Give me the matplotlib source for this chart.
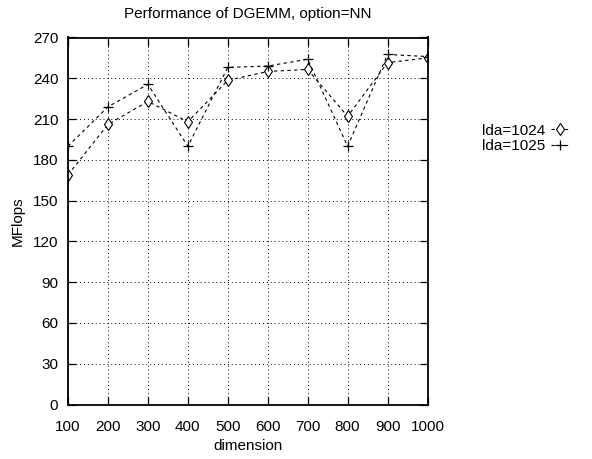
import matplotlib
matplotlib.use("Agg")
import matplotlib.pyplot as plt
from matplotlib import font_manager

# ── Dados ─────────────────────────────────────────────────────────────
dimension = [100, 200, 300, 400, 500, 600, 700, 800, 900, 1000]
lda_1024 = [169, 206, 223, 208, 238.5, 245, 246.5, 212, 251.5, 255]
lda_1025 = [190, 219, 235.5, 190, 248, 249, 254, 190, 257.5, 256]
xticks = [100, 200, 300, 400, 500, 600, 700, 800, 900, 1000]
yticks = [0, 30, 60, 90, 120, 150, 180, 210, 240, 270]

names = {f.name for f in font_manager.fontManager.ttflist}
if "Liberation Sans Narrow" in names:
    family, fs = "Liberation Sans Narrow", 12.5
else:
    family, fs = "Liberation Sans", 11

plt.rcParams.update({
    "font.family": family,
    "font.size": fs,
})

fig = plt.figure(figsize=(5.92, 4.59), dpi=100)
ax = fig.add_axes([68 / 592, 1 - 404.5 / 459, (427.5 - 68) / 592, (404.5 - 37.5) / 459])

ax.plot(dimension, lda_1024, color="black", lw=0.8, ls=(0, (3, 3)),
        marker="d", markersize=6.5, markerfacecolor="white",
        markeredgecolor="black", markeredgewidth=0.8, label="lda=1024")
ax.plot(dimension, lda_1025, color="black", lw=0.8, ls=(0, (3, 3)),
        marker="+", markersize=7, markeredgewidth=0.9, label="lda=1025")

ax.set_xlim(100, 1000)
ax.set_ylim(0, 270)
ax.set_xticks(xticks)
ax.set_yticks(yticks)
ax.tick_params(direction="in", length=6, width=0.9, top=True, right=True,
               labelsize=fs)
ax.tick_params(axis="x", pad=11)
ax.tick_params(axis="y", pad=7)
ax.grid(True, color="black", ls=(0, (1, 3)), lw=0.7)
for s in ax.spines.values():
    s.set_linewidth(1.3)

ax.set_title("Performance of DGEMM, option=NN", fontsize=fs, pad=14)
ax.set_xlabel("dimension", labelpad=4)
ax.set_ylabel("MFlops", labelpad=6)

fig.legend(loc="upper left", bbox_to_anchor=(474 / 592, 1 - 116 / 459),
           frameon=False, markerfirst=False, handlelength=1.2,
           handletextpad=0.4, borderpad=0, labelspacing=0.1)

fig.savefig("out.png", dpi=100)
